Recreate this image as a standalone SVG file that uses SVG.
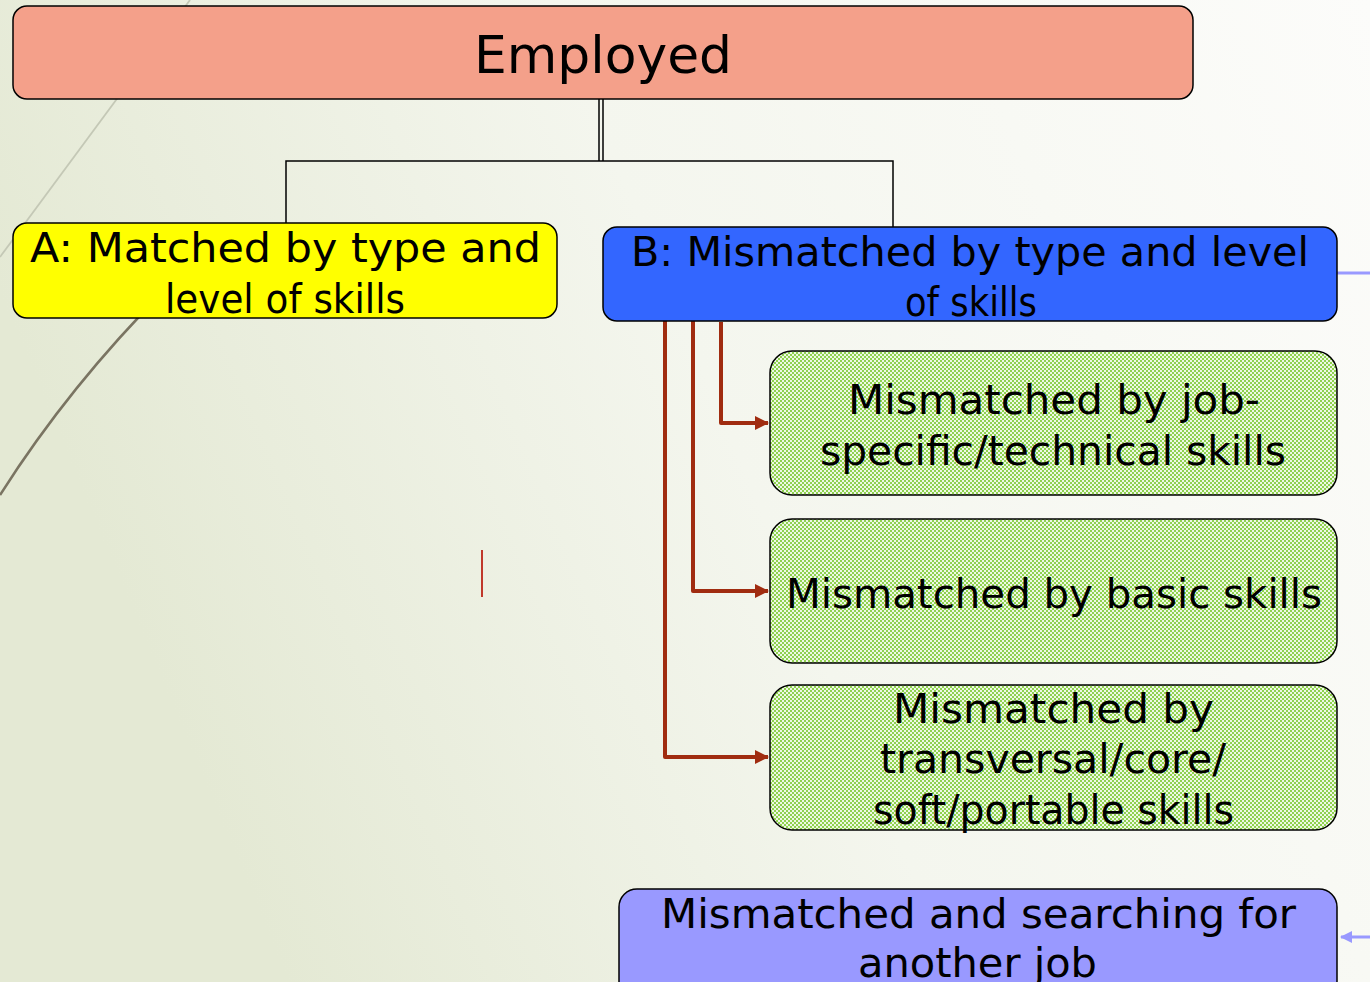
<svg xmlns="http://www.w3.org/2000/svg" width="1370" height="982" viewBox="0 0 1370 982">
  <defs>
    <linearGradient id="bg" x1="0" y1="0.3" x2="1" y2="0">
      <stop offset="0" stop-color="#e4e9d4"/>
      <stop offset="0.45" stop-color="#f4f6ee"/>
      <stop offset="1" stop-color="#fcfcfa"/>
    </linearGradient>
    <pattern id="checker" width="4" height="4" patternUnits="userSpaceOnUse">
      <rect width="4" height="4" fill="#eef8e4"/>
      <rect x="0" y="0" width="2" height="2" fill="#8fd14f"/>
      <rect x="2" y="2" width="2" height="2" fill="#8fd14f"/>
    </pattern>
    <marker id="redArrow" viewBox="0 0 14 14" refX="13" refY="7" markerWidth="14" markerHeight="14" markerUnits="userSpaceOnUse" orient="auto">
      <path d="M0,0 L14,7 L0,14 Z" fill="#a02c10"/>
    </marker>
    <marker id="lilacArrow" viewBox="0 0 12 12" refX="11" refY="6" markerWidth="12" markerHeight="12" markerUnits="userSpaceOnUse" orient="auto">
      <path d="M0,0 L12,6 L0,12 Z" fill="#9999ff"/>
    </marker>
  </defs>
  <style>
    .box { stroke: #000; stroke-width: 1.5; }
    .lbl { font-family: "DejaVu Sans", "Liberation Sans", sans-serif; fill: #000; text-anchor: middle; }
    .big { font-size: 52px; }
    .mid { font-size: 41px; }
    .tree { fill: none; stroke: #000; stroke-width: 1.5; }
    .red { fill: none; stroke: #a02c10; stroke-width: 4; stroke-linejoin: round; marker-end: url(#redArrow); }
  </style>

  <!-- background -->
  <rect width="1370" height="982" fill="url(#bg)"/>
  <path d="M190,0 L0,257" fill="none" stroke="#c4c8b6" stroke-width="1.8"/>
  <path d="M165,290 Q70,385 0,495" fill="none" stroke="#7a7462" stroke-width="2.5"/>

  <!-- connectors -->
  <g id="connectors">
    <line class="tree" x1="599" y1="99" x2="599" y2="161"/>
    <line class="tree" x1="603" y1="99" x2="603" y2="161"/>
    <polyline class="tree" points="286,223 286,161 893,161 893,227"/>
    <polyline class="red" points="721,322 721,423 768,423"/>
    <polyline class="red" points="693,320 693,591 768,591"/>
    <polyline class="red" points="665,316 665,757 768,757"/>
    <line x1="482" y1="550" x2="482" y2="597" stroke="#c0392b" stroke-width="2"/>
    <line x1="1337" y1="273" x2="1370" y2="273" stroke="#9999ff" stroke-width="3"/>
    <line x1="1370" y1="937" x2="1341" y2="937" stroke="#9999ff" stroke-width="3" marker-end="url(#lilacArrow)"/>
  </g>

  <g id="employed">
    <rect class="box" x="13" y="6" width="1180" height="93" rx="14" fill="#f4a08a"/>
    <text class="lbl big" x="603" y="73" textLength="258" lengthAdjust="spacingAndGlyphs">Employed</text>
  </g>

  <g id="matched">
    <rect class="box" x="13" y="223" width="544" height="95" rx="14" fill="#ffff00"/>
    <text class="lbl mid" x="285.5" y="262" textLength="511" lengthAdjust="spacingAndGlyphs">A: Matched by type and</text>
    <text class="lbl mid" x="285" y="313" textLength="240" lengthAdjust="spacingAndGlyphs">level of skills</text>
  </g>

  <g id="mismatched">
    <rect class="box" x="603" y="227" width="734" height="94" rx="14" fill="#3366ff"/>
    <text class="lbl mid" x="970" y="266" textLength="678" lengthAdjust="spacingAndGlyphs">B: Mismatched by type and level</text>
    <text class="lbl mid" x="971" y="316" textLength="132" lengthAdjust="spacingAndGlyphs">of skills</text>
  </g>

  <g id="technical">
    <rect class="box" x="770" y="351" width="567" height="144" rx="22" fill="url(#checker)"/>
    <text class="lbl mid" x="1054" y="414" textLength="412" lengthAdjust="spacingAndGlyphs">Mismatched by job-</text>
    <text class="lbl mid" x="1053" y="465" textLength="466" lengthAdjust="spacingAndGlyphs">specific/technical skills</text>
  </g>

  <g id="basic">
    <rect class="box" x="770" y="519" width="567" height="144" rx="22" fill="url(#checker)"/>
    <text class="lbl mid" x="1054" y="608" textLength="536" lengthAdjust="spacingAndGlyphs">Mismatched by basic skills</text>
  </g>

  <g id="transversal">
    <rect class="box" x="770" y="685" width="567" height="145" rx="22" fill="url(#checker)"/>
    <text class="lbl mid" x="1053.5" y="723" textLength="321" lengthAdjust="spacingAndGlyphs">Mismatched by</text>
    <text class="lbl mid" x="1053" y="773" textLength="346" lengthAdjust="spacingAndGlyphs">transversal/core/</text>
    <text class="lbl mid" x="1053.5" y="824" textLength="361" lengthAdjust="spacingAndGlyphs">soft/portable skills</text>
  </g>

  <g id="searching">
    <rect class="box" x="619" y="889" width="718" height="110" rx="18" fill="#9999ff"/>
    <text class="lbl mid" x="978.5" y="928" textLength="635" lengthAdjust="spacingAndGlyphs">Mismatched and searching for</text>
    <text class="lbl mid" x="977.5" y="977" textLength="239" lengthAdjust="spacingAndGlyphs">another job</text>
  </g>
</svg>
